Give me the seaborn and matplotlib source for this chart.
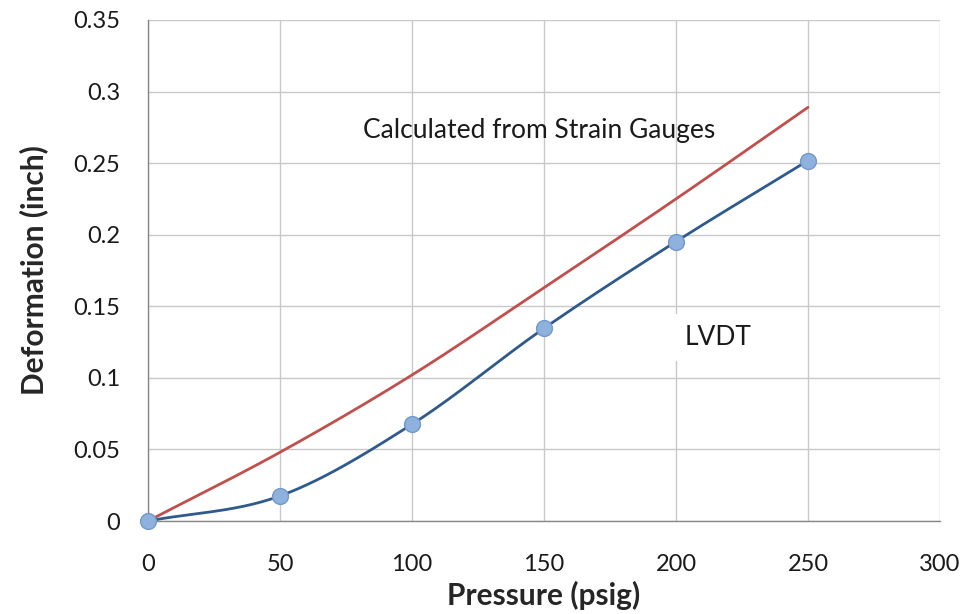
import numpy as np
import pandas as pd
import matplotlib
matplotlib.use("Agg")
import matplotlib.pyplot as plt
import seaborn as sns

pressure = [0, 50, 100, 150, 200, 250]
strain_gauge = [0.0, 0.048, 0.102, 0.163, 0.225, 0.289]
lvdt = [0.0, 0.0175, 0.0676, 0.1346, 0.1952, 0.2518]
x_ticks = [0, 50, 100, 150, 200, 250, 300]
y_ticks = [0, 0.05, 0.1, 0.15, 0.2, 0.25, 0.3, 0.35]
y_tick_labels = ["0", "0.05", "0.1", "0.15", "0.2", "0.25", "0.3", "0.35"]


def smooth(xs, ys, n=30):
    # Excel-like smoothed line (Catmull-Rom through the data points)
    xs = np.asarray(xs, float); ys = np.asarray(ys, float)
    px = np.concatenate([[2 * xs[0] - xs[1]], xs, [2 * xs[-1] - xs[-2]]])
    py = np.concatenate([[2 * ys[0] - ys[1]], ys, [2 * ys[-1] - ys[-2]]])
    ox, oy = [], []
    t = np.linspace(0, 1, n)
    for i in range(1, len(px) - 2):
        for arr, out in ((px, ox), (py, oy)):
            p0, p1, p2, p3 = arr[i - 1], arr[i], arr[i + 1], arr[i + 2]
            c = 0.5 * ((2 * p1) + (-p0 + p2) * t + (2 * p0 - 5 * p1 + 4 * p2 - p3) * t ** 2
                       + (-p0 + 3 * p1 - 3 * p2 + p3) * t ** 3)
            out.extend(c)
    return np.array(ox), np.array(oy)


sns.set_theme(style="white")
plt.rcParams["font.family"] = ["Lato", "DejaVu Sans"]

fig = plt.figure(figsize=(9.64, 6.14), dpi=100)
ax = fig.add_axes([148 / 964, 93 / 614, 792 / 964, 501 / 614])

sx, sy = smooth(pressure, strain_gauge)
bx, by = smooth(pressure, lvdt)
sns.lineplot(x=sx, y=sy, ax=ax, color="#C0504D", linewidth=2, sort=False, zorder=3)
sns.lineplot(x=bx, y=by, ax=ax, color="#2E5A8C", linewidth=2, sort=False, zorder=4)
sns.scatterplot(x=pressure, y=lvdt, ax=ax, s=130, color="#8EB1DE", edgecolor="#7398CC",
                linewidth=1, zorder=5, clip_on=False)

ax.set_xlim(0, 300)
ax.set_ylim(0, 0.35)
ax.set_xticks(x_ticks)
ax.set_xticklabels([str(v) for v in x_ticks])
ax.set_yticks(y_ticks)
ax.set_yticklabels(y_tick_labels)
ax.grid(True, color="#C8C8C8", linewidth=1)
ax.set_axisbelow(True)
for side in ["top", "right"]:
    ax.spines[side].set_visible(False)
for side in ["left", "bottom"]:
    ax.spines[side].set_color("#868686")
    ax.spines[side].set_linewidth(1)
ax.tick_params(axis="x", length=0, labelsize=17, pad=24, labelcolor="#1a1a1a")
ax.tick_params(axis="y", length=0, labelsize=17, pad=20, labelcolor="#1a1a1a")

ax.set_xlabel("Pressure (psig)", fontsize=21.5, fontweight="bold", labelpad=4)
ax.set_ylabel("Deformation (inch)", fontsize=21.5, fontweight="bold", labelpad=18)

ax.text(148, 0.273, "Calculated from Strain Gauges", fontsize=19, ha="center",
        va="center", color="#1a1a1a")
ax.text(216, 0.128, "LVDT", fontsize=19, ha="center", va="center", color="#1a1a1a",
        bbox=dict(facecolor="white", edgecolor="none", pad=8))

fig.savefig("out.png", dpi=100)
